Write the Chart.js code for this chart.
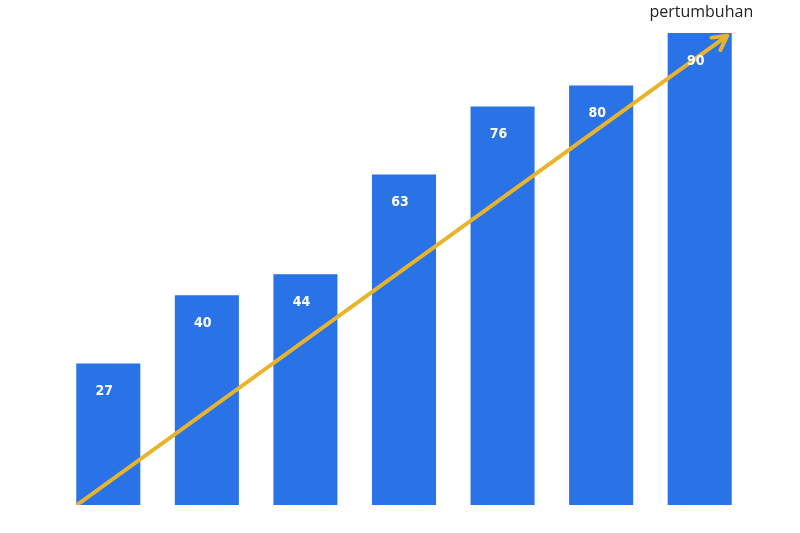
<!DOCTYPE html>
<html>
<head>
<meta charset="utf-8">
<script src="https://cdn.jsdelivr.net/npm/chart.js@4.4.0/dist/chart.umd.min.js"></script>
<style>
  html, body { margin: 0; padding: 0; background: #fff; }
  #wrap { width: 800px; height: 533px; position: relative; }
</style>
</head>
<body>
<div id="wrap"><canvas id="chart"></canvas></div>
<script>
'use strict';

// bar categories and values
var categories = ['1', '2', '3', '4', '5', '6', '7'];
var values = [27, 40, 44, 63, 76, 80, 90];

// growth arrow, in (bar index, value) units
var arrowX = [-0.32, 6.28];
var arrowY = [0, 89.5];
var arrowLabel = 'pertumbuhan';

var barColor = '#2a73e6';
var arrowColor = '#e9b42c';

// draws the value inside each bar
var valueLabels = {
  id: 'valueLabels',
  afterDatasetsDraw: function(chart){
    var ctx = chart.ctx;
    var meta = chart.getDatasetMeta(0);
    ctx.save();
    ctx.fillStyle = '#ffffff';
    ctx.font = 'bold 14px "DejaVu Sans Condensed", Roboto, sans-serif';
    ctx.textAlign = 'center';
    ctx.textBaseline = 'middle';
    for (var i = 0; i < meta.data.length; i++){
      var bar = meta.data[i];
      ctx.fillText(String(values[i]), bar.x - 4, bar.y + 28);
    }
    ctx.restore();
  }
};

// arrow head and its label
var arrowHead = {
  id: 'arrowHead',
  afterDraw: function(chart){
    var ctx = chart.ctx;
    var pts = chart.getDatasetMeta(1).data;
    var a = pts[0], b = pts[1];
    var ang = Math.atan2(b.y - a.y, b.x - a.x);
    var len = 16;
    ctx.save();
    ctx.strokeStyle = arrowColor;
    ctx.lineWidth = 4;
    ctx.lineCap = 'round';
    ctx.lineJoin = 'round';
    ctx.beginPath();
    ctx.moveTo(b.x - len * Math.cos(ang - 0.5), b.y - len * Math.sin(ang - 0.5));
    ctx.lineTo(b.x, b.y);
    ctx.lineTo(b.x - len * Math.cos(ang + 0.5), b.y - len * Math.sin(ang + 0.5));
    ctx.stroke();
    ctx.fillStyle = '#222222';
    ctx.font = '16px "Open Sans", sans-serif';
    ctx.textAlign = 'center';
    ctx.textBaseline = 'middle';
    ctx.fillText(arrowLabel, b.x - 26, 12);
    ctx.restore();
  }
};

var ctx = document.getElementById('chart').getContext('2d');
new Chart(ctx, {
  type: 'bar',
  data: {
    labels: categories,
    datasets: [{
      type: 'bar',
      data: values,
      backgroundColor: barColor,
      barPercentage: 0.65,
      categoryPercentage: 1,
      grouped: false,
      xAxisID: 'x',
      order: 2
    }, {
      type: 'line',
      data: [{x: arrowX[0], y: arrowY[0]}, {x: arrowX[1], y: arrowY[1]}],
      borderColor: arrowColor,
      borderWidth: 4,
      pointRadius: 0,
      xAxisID: 'x2',
      order: 1
    }]
  },
  plugins: [valueLabels, arrowHead],
  options: {
    responsive: true,
    maintainAspectRatio: false,
    animation: false,
    layout: { padding: { left: 59, right: 51, top: 33, bottom: 28 } },
    plugins: { legend: { display: false }, tooltip: { enabled: false } },
    scales: {
      x: { type: 'category', display: false, offset: true },
      x2: { type: 'linear', display: false, offset: false, min: -0.5, max: 6.5 },
      y: { display: false, min: 0, max: 90 }
    }
  }
});
</script>
</body>
</html>
